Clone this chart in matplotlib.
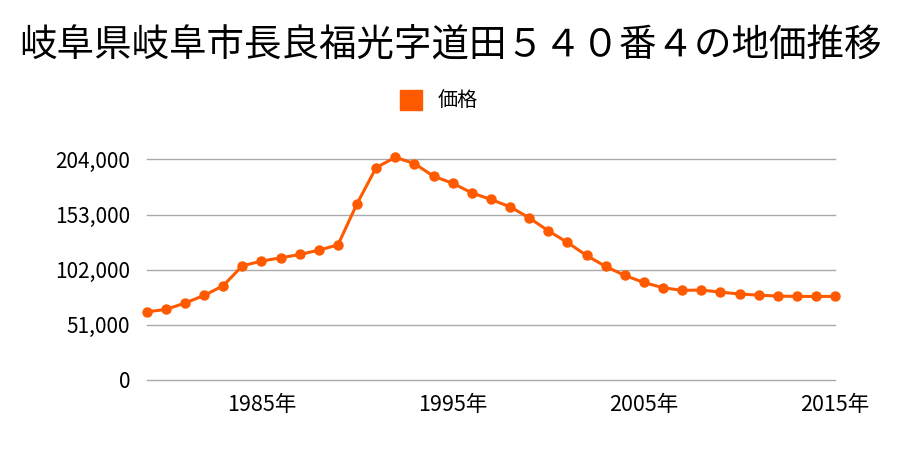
import matplotlib
matplotlib.use("Agg")
import matplotlib.pyplot as plt

plt.rcParams['font.family'] = ['Noto Sans CJK JP', 'DejaVu Sans']

years = list(range(1979, 2016))
prices = [63000, 65300, 71100, 78200, 87200, 105600, 110000, 113000, 116100,
          120100, 125000, 163200, 196500, 206000, 200200, 188500, 182000,
          173100, 167000, 160200, 150000, 138000, 127200, 115200, 105000,
          96700, 90200, 85300, 82900, 83200, 81300, 79500, 78500, 77600,
          77300, 77300, 77300]
yticks = [0, 51000, 102000, 153000, 204000]
xticks = [1985, 1995, 2005, 2015]
title = '岐阜県岐阜市長良福光字道田５４０番４の地価推移'
color = '#ff5a00'

fig = plt.figure(figsize=(9, 4.5), dpi=100)
ax = fig.add_axes([0.163, 0.1556, 0.765, 0.49])

ax.plot(years, prices, color=color, lw=2.2, marker='o', ms=6.5,
        clip_on=False, zorder=3, label='価格')

ax.set_xlim(1979, 2015)
ax.set_ylim(0, 204000)
ax.set_yticks(yticks)
ax.set_yticklabels([f'{v:,}' for v in yticks])
ax.set_xticks(xticks)
ax.set_xticklabels([f'{y}年' for y in xticks])
ax.grid(axis='y', color='#aaaaaa', lw=1)
for gl in ax.get_ygridlines():
    gl.set_clip_on(False)
ax.set_axisbelow(True)
for s in ax.spines.values():
    s.set_visible(False)
ax.tick_params(axis='y', length=0, labelsize=15, pad=12)
ax.tick_params(axis='x', length=0, labelsize=15.5, pad=10)

fig.text(0.5, 0.898, title, ha='center', va='center', fontsize=27)
fig.legend(handles=[plt.Rectangle((0, 0), 1, 1, color=color)], labels=['価格'],
           loc='center', bbox_to_anchor=(0.488, 0.775), frameon=False,
           fontsize=14.5, handlelength=1.05, handleheight=1.15, handletextpad=0.8)

fig.savefig('out.png')
